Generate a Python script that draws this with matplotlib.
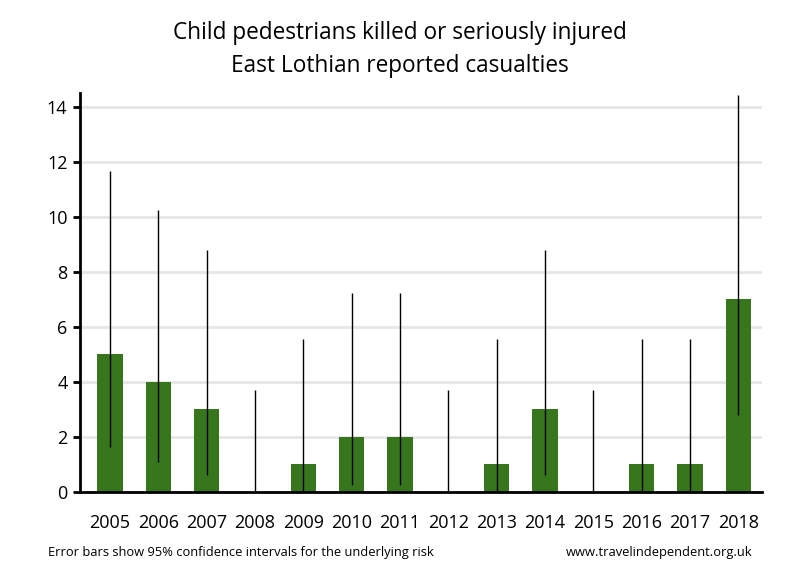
import numpy as np
from matplotlib import pyplot as plt

years = ['2005', '2006', '2007', '2008', '2009', '2010', '2011',
         '2012', '2013', '2014', '2015', '2016', '2017', '2018']
casualties = [5, 4, 3, 0, 1, 2, 2, 0, 1, 3, 0, 1, 1, 7]
ci_low = [1.62, 1.09, 0.62, 0.0, 0.03, 0.24, 0.24, 0.0, 0.03, 0.62, 0.0, 0.03, 0.03, 2.81]
ci_high = [11.67, 10.24, 8.77, 3.69, 5.57, 7.22, 7.22, 3.69, 5.57, 8.77, 3.69, 5.57, 5.57, 14.42]
y_ticks = [0, 2, 4, 6, 8, 10, 12, 14]

plt.rcParams['font.family'] = ['Open Sans', 'DejaVu Sans']

fig = plt.figure(figsize=(8, 5.8), dpi=100)
ax = fig.add_axes([0.1, 0.152, 0.852, 0.688])

x = np.arange(len(years))
ax.bar(x, casualties, width=0.52, color='#38761d', zorder=2)
ax.vlines(x, ci_low, ci_high, color='black', linewidth=1, zorder=3)

ax.set_xlim(-0.62, 13.48)
ax.set_ylim(0, 14.5)
ax.set_yticks(y_ticks)
ax.set_xticks(x)
ax.set_xticklabels(years)
ax.tick_params(axis='x', length=0, pad=16, labelsize=13)
ax.tick_params(axis='y', length=5, width=2, labelsize=13, pad=4)
ax.grid(axis='y', color='#e6e6e6', linewidth=2, zorder=0)
ax.set_axisbelow(True)
for side in ['top', 'right']:
    ax.spines[side].set_visible(False)
for side in ['left', 'bottom']:
    ax.spines[side].set_linewidth(2)

fig.text(0.5, 0.915, 'Child pedestrians killed or seriously injured\nEast Lothian reported casualties',
         ha='center', va='center', fontsize=16.3, linespacing=1.5)
fig.text(0.06, 0.047, 'Error bars show 95% confidence intervals for the underlying risk',
         ha='left', va='center', fontsize=9.3)
fig.text(0.94, 0.047, 'www.travelindependent.org.uk',
         ha='right', va='center', fontsize=9.3)

fig.savefig('out.png', dpi=100)
